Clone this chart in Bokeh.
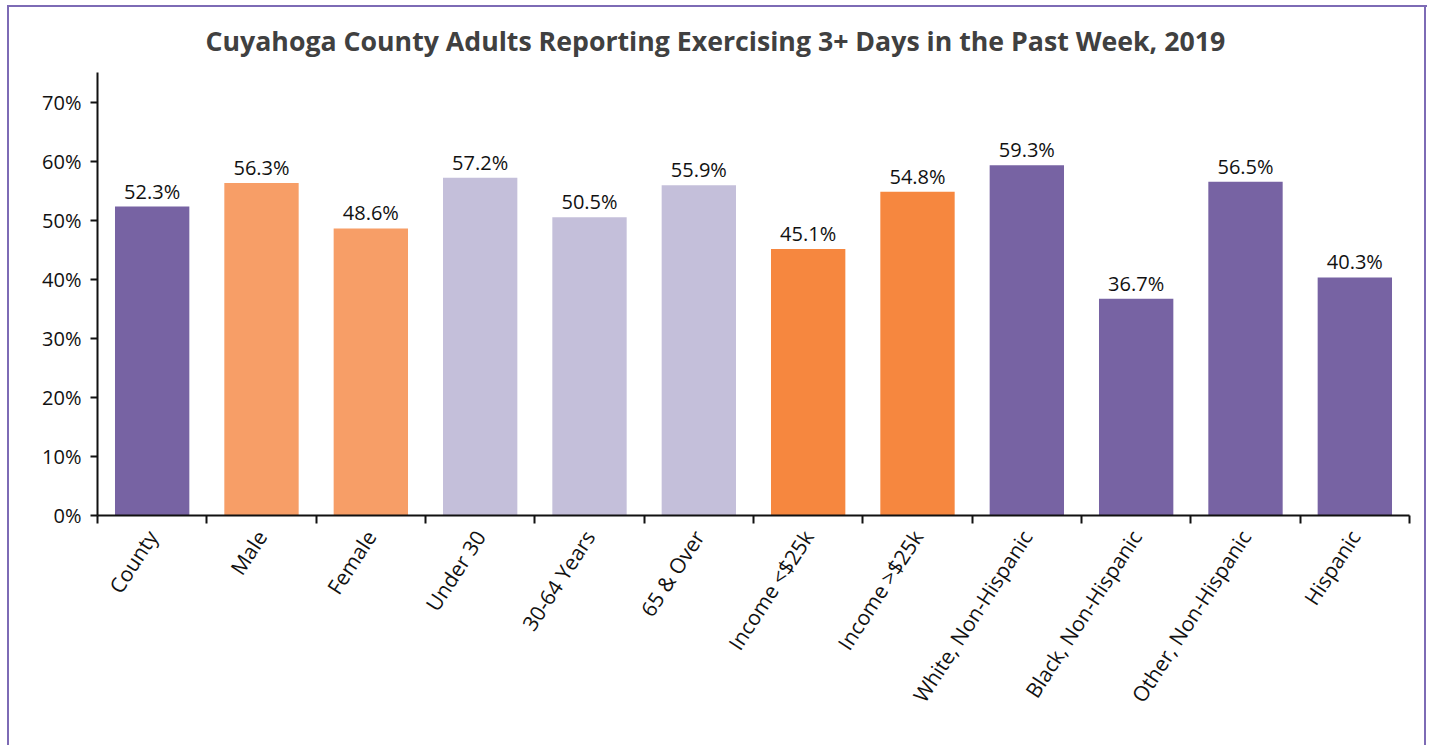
import math
from bokeh.plotting import figure
from bokeh.models import ColumnDataSource, FixedTicker, Range1d, NumeralTickFormatter
from bokeh.core.properties import value
from bokeh.embed import file_html
from bokeh.resources import INLINE

categories = ["County", "Male", "Female", "Under 30", "30-64 Years", "65 & Over",
              "Income <$25k", "Income >$25k", "White, Non-Hispanic",
              "Black, Non-Hispanic", "Other, Non-Hispanic", "Hispanic"]
values = [52.3, 56.3, 48.6, 57.2, 50.5, 55.9, 45.1, 54.8, 59.3, 36.7, 56.5, 40.3]
colors = ["#7763a3", "#f79e67", "#f79e67", "#c4bfda", "#c4bfda", "#c4bfda",
          "#f6873f", "#f6873f", "#7763a3", "#7763a3", "#7763a3", "#7763a3"]
y_ticks = [0, 10, 20, 30, 40, 50, 60, 70]

FONT = "Open Sans"
BORDER = "#7d6bb5"
xs = [i + 0.5 for i in range(len(categories))]
src = ColumnDataSource(dict(x=xs, top=[v / 100 for v in values], color=colors,
                            label=[f"{v:.1f}%" for v in values]))

p = figure(width=1432, height=745, output_backend="svg", toolbar_location=None,
           x_range=Range1d(0, len(categories)), y_range=Range1d(0, 0.75),
           min_border_left=97, min_border_right=23, min_border_top=72,
           min_border_bottom=230)
p.border_fill_color = None
p.background_fill_color = "white"
grad = f"linear-gradient({BORDER},{BORDER})"
p.styles = {
    "background-color": "white",
    "background-image": f"{grad}, {grad}, {grad}",
    "background-size": "1420px 2px, 2px 745px, 2px 745px",
    "background-position": "7px 5px, 7px 5px, 1424px 5px",
    "background-repeat": "no-repeat",
}

p.title.text = "Cuyahoga County Adults Reporting Exercising 3+ Days in the Past Week, 2019"
p.title.text_font = FONT
p.title.text_font_size = "26.7px"
p.title.text_font_style = "bold"
p.title.text_color = "#404040"
p.title.align = "left"
p.title.offset = 108
p.title.standoff = 27

p.vbar(x="x", top="top", width=0.68, fill_color="color", line_color=None, source=src)
p.text(x="x", y="top", text="label", source=src, text_align="center",
       text_baseline="bottom", y_offset=-2, text_font=value(FONT),
       text_font_size="20px", text_color="#111111")

p.grid.visible = False
p.outline_line_color = None

p.yaxis.ticker = FixedTicker(ticks=[t / 100 for t in y_ticks])
p.yaxis.formatter = NumeralTickFormatter(format="0%")
p.yaxis.axis_line_width = 2
p.yaxis.axis_line_color = "#111111"
p.yaxis.major_tick_line_width = 2
p.yaxis.major_tick_line_color = "#111111"
p.yaxis.major_tick_in = 0
p.yaxis.major_tick_out = 7
p.yaxis.minor_tick_line_color = None
p.yaxis.major_label_text_font = FONT
p.yaxis.major_label_text_font_size = "20px"
p.yaxis.major_label_text_color = "#111111"
p.yaxis.major_label_standoff = 9

p.xaxis.ticker = FixedTicker(ticks=xs, minor_ticks=list(range(len(categories) + 1)))
p.xaxis.major_label_overrides = {x: c for x, c in zip(xs, categories)}
p.xaxis.major_label_orientation = math.radians(57)
p.xaxis.axis_line_width = 2
p.xaxis.axis_line_color = "#111111"
p.xaxis.major_tick_line_color = None
p.xaxis.major_tick_in = 0
p.xaxis.major_tick_out = 0
p.xaxis.minor_tick_line_width = 2
p.xaxis.minor_tick_line_color = "#111111"
p.xaxis.minor_tick_in = 0
p.xaxis.minor_tick_out = 8
p.xaxis.major_label_text_font = FONT
p.xaxis.major_label_text_font_size = "21px"
p.xaxis.major_label_text_color = "#111111"
p.xaxis.major_label_standoff = 9

open("out.html", "w").write(file_html(p, INLINE))
